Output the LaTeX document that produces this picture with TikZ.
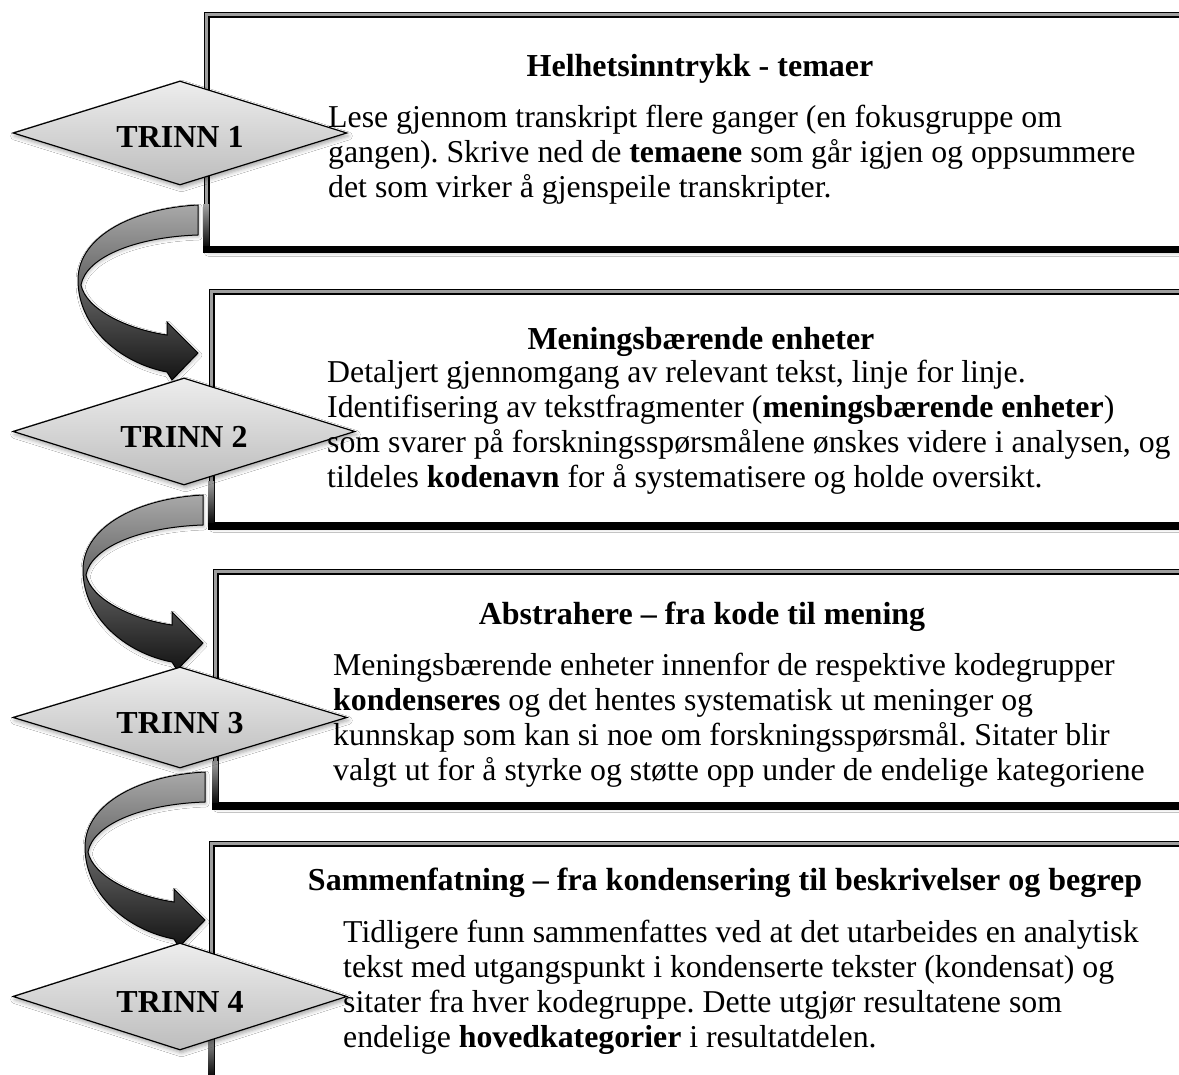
\documentclass[tikz,border=0pt]{standalone}
\usepackage{fontspec}
\setmainfont{Liberation Serif}
\usetikzlibrary{shapes.geometric,shadows.blur,calc}
\frenchspacing

\tikzset{
  softshadow/.style={blur shadow={shadow xshift=1.5pt, shadow yshift=-3pt,
      shadow blur radius=4pt, shadow opacity=35}},
  stepbox/.style={draw=black, line width=1.5pt, double=black!38,
      double distance=3pt, fill=white, inner sep=0pt, anchor=north west,
      softshadow},
  stepdiamond/.style={diamond, draw=black, line width=1.2pt, inner sep=0pt,
      top color=black!7, bottom color=black!26, softshadow},
  curvearrow/.style={draw=black, line width=1pt, top color=black!34,
      bottom color=black!92,
      blur shadow={shadow xshift=1pt, shadow yshift=-2pt,
      shadow blur radius=3pt, shadow opacity=25}},
  body/.style={anchor=north west, align=left, inner sep=0pt,
      font=\fontsize{31.8}{35}\selectfont},
  heading/.style={anchor=base, inner sep=0pt,
      font=\fontsize{32}{35}\selectfont\bfseries},
  trinn/.style={anchor=base, inner sep=0pt,
      font=\fontsize{32}{35}\selectfont\bfseries},
  bendarrow/.pic={
    \path[curvearrow] (0,0) .. controls (-62,3) and (-120,30) .. (-120,75)
      .. controls (-120,122) and (-78,158) .. (-31,167)
      -- (-26,175) -- (0,148) -- (-31,117) -- (-31,130)
      .. controls (-72,124) and (-112,104) .. (-117,80)
      .. controls (-112,52) and (-62,32) .. (0,30) -- cycle;
  }
}

% #1 name, #2 left, #3 top, #4 bottom (pixels, y downwards)
\newcommand\stepframe[4]{%
  \node[stepbox, minimum width={1200pt-#2pt-3pt},
        minimum height={#4pt-#3pt-6.5pt}] (#1) at (#2+3,#3+3) {};
  \fill[top color=black!38, bottom color=black]
    ([xshift=-3pt,yshift=45pt]#1.south west) rectangle ([xshift=3pt]#1.south west);
  \draw[line width=7pt] ([xshift=-3pt]#1.south west) -- ([xshift=3pt]#1.south east);
}

% first line strut so that the block top sits 24pt above its first baseline
\newcommand\fl{\rule{0pt}{24pt}}

\begin{document}
\begin{tikzpicture}[x=1pt,y=-1pt]
  \useasboundingbox (0,0) rectangle (1179,1075);
  \clip (0,0) rectangle (1179,1075);
  \fill[white] (0,0) rectangle (1179,1075);

  % step frames
  \stepframe{box1}{203}{11}{252}
  \stepframe{box2}{208}{288}{528}
  \stepframe{box3}{212}{568}{808}
  \stepframe{box4}{208}{840}{1081}

  % curved arrows between the steps
  \pic at (198,205) {bendarrow};
  \pic at (203,495) {bendarrow};
  \pic at (205,772) {bendarrow};

  % step markers
  \node[stepdiamond, minimum width=334pt, minimum height=104pt] (d1) at (180,133) {};
  \node[stepdiamond, minimum width=342pt, minimum height=107pt] (d2) at (184,431.5) {};
  \node[stepdiamond, minimum width=334pt, minimum height=101pt] (d3) at (180,717.5) {};
  \node[stepdiamond, minimum width=334pt, minimum height=107pt] (d4) at (180,996.5) {};

  \node[trinn] (t1) at (180,148) {TRINN 1};
  \node[trinn] (t2) at (184,447) {TRINN 2};
  \node[trinn] (t3) at (180,733) {TRINN 3};
  \node[trinn] (t4) at (180,1012) {TRINN 4};

  % headings
  \node[heading] (h1) at (700,77) {Helhetsinntrykk - temaer};
  \node[heading] (h2) at (701,350) {Meningsbærende enheter};
  \node[heading] (h3) at (702,624) {Abstrahere – fra kode til mening};
  \node[heading] (h4) at (725,890) {Sammenfatning – fra kondensering til beskrivelser og begrep};

  % descriptions
  \node[body] (p1) at (328,103) {\fl Lese gjennom transkript flere ganger (en fokusgruppe om\\
    gangen). Skrive ned de \textbf{temaene} som går igjen og oppsummere\\
    det som virker å gjenspeile transkripter.};
  \node[body] (p2) at (327,358) {\fl Detaljert gjennomgang av relevant tekst, linje for linje.\\
    Identifisering av tekstfragmenter (\textbf{meningsbærende enheter})\\
    som svarer på forskningsspørsmålene ønskes videre i analysen, og\\
    tildeles \textbf{kodenavn} for å systematisere og holde oversikt.};
  \node[body] (p3) at (333,651) {\fl Meningsbærende enheter innenfor de respektive kodegrupper\\
    \textbf{kondenseres} og det hentes systematisk ut meninger og\\
    kunnskap som kan si noe om forskningsspørsmål. Sitater blir\\
    valgt ut for å styrke og støtte opp under de endelige kategoriene};
  \node[body] (p4) at (343,918) {\fl Tidligere funn sammenfattes ved at det utarbeides en analytisk\\
    tekst med utgangspunkt i kondenserte tekster (kondensat) og\\
    sitater fra hver kodegruppe. Dette utgjør resultatene som\\
    endelige \textbf{hovedkategorier} i resultatdelen.};
\end{tikzpicture}
\end{document}
